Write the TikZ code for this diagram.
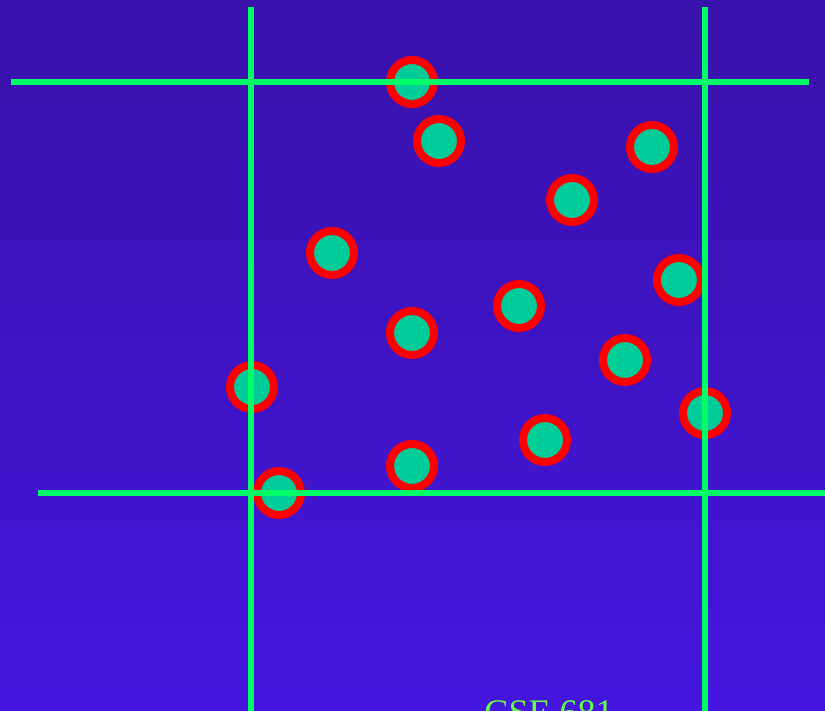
\documentclass[tikz,border=0pt]{standalone}
\usepackage{fontspec}
\setmainfont{Liberation Serif}
\definecolor{bgtop}{RGB}{56,18,170}
\definecolor{bgbot}{RGB}{68,22,222}
\definecolor{gline}{RGB}{0,255,102}
\definecolor{ptfill}{RGB}{0,204,153}
\definecolor{ptring}{RGB}{255,0,0}
\definecolor{txtgreen}{RGB}{102,255,68}
\begin{document}
\begin{tikzpicture}[x=1pt,y=-1pt,
  pt/.style={circle,draw=ptring,fill=ptfill,line width=8pt,minimum size=44pt,inner sep=0pt},
  gridline/.style={draw=gline,line width=6pt}]
\useasboundingbox (0,0) rectangle (825,711);
\shade[top color=bgtop,bottom color=bgbot] (0,0) rectangle (825,711);
\node[pt] (p1) at (412,82) {};
\node[pt] (p2) at (439,141) {};
\node[pt] (p3) at (652,147) {};
\node[pt] (p4) at (572,200) {};
\node[pt] (p5) at (332,253) {};
\node[pt] (p6) at (679,280) {};
\node[pt] (p7) at (519,306) {};
\node[pt] (p8) at (412,333) {};
\node[pt] (p9) at (625,360) {};
\node[pt] (p10) at (252,387) {};
\node[pt] (p11) at (705,413) {};
\node[pt] (p12) at (545,440) {};
\node[pt] (p13) at (412,466) {};
\node[pt] (p14) at (279,493) {};
\coordinate (v1t) at (251,7);
\coordinate (v1b) at (251,711);
\coordinate (v2t) at (705,7);
\coordinate (v2b) at (705,711);
\coordinate (h1l) at (11,82);
\coordinate (h1r) at (809,82);
\coordinate (h2l) at (38,493);
\coordinate (h2r) at (825,493);
\draw[gridline] (v1t) -- (v1b);
\draw[gridline] (v2t) -- (v2b);
\draw[gridline] (h1l) -- (h1r);
\draw[gridline] (h2l) -- (h2r);
\node[anchor=base,text=txtgreen,font=\fontsize{36}{40}\selectfont,inner sep=0pt] (title) at (549,724) {CSE 681};
\end{tikzpicture}
\end{document}
